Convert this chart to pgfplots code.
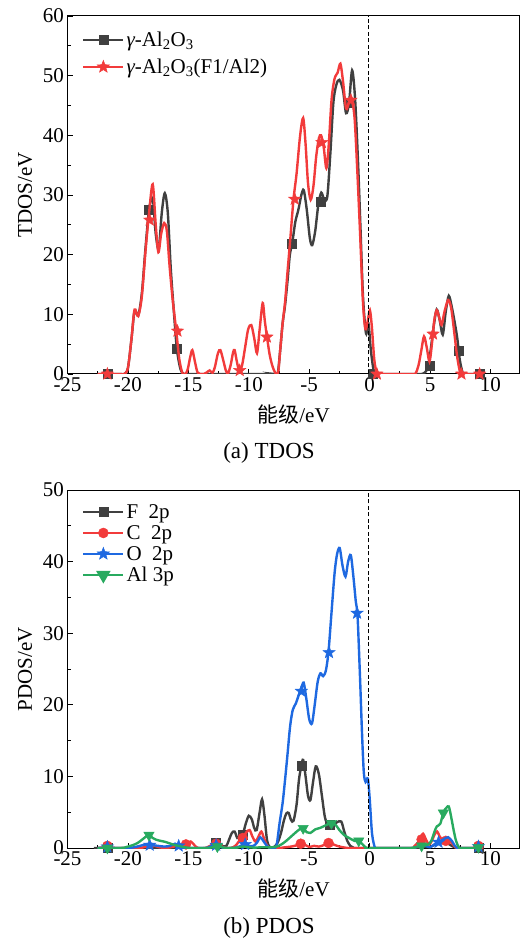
\documentclass[border=0pt]{standalone}
\usepackage{fontspec}
\setmainfont{Liberation Serif}
\newfontfamily\cjk{Noto Sans CJK SC}
\usepackage{pgfplots}
\pgfplotsset{compat=1.18}
\definecolor{cGray}{HTML}{404040}
\definecolor{cRed}{HTML}{F23B3B}
\definecolor{cBlue}{HTML}{1E69E1}
\definecolor{cGreen}{HTML}{28AA5F}
\newcommand{\fs}{\fontsize{21}{25}\selectfont}

% filled five-point star
\pgfdeclareplotmark{fstar}{%
  \pgfpathmoveto{\pgfpointpolar{90}{\pgfplotmarksize}}%
  \pgfpathlineto{\pgfpointpolar{126}{0.42\pgfplotmarksize}}%
  \pgfpathlineto{\pgfpointpolar{162}{\pgfplotmarksize}}%
  \pgfpathlineto{\pgfpointpolar{198}{0.42\pgfplotmarksize}}%
  \pgfpathlineto{\pgfpointpolar{234}{\pgfplotmarksize}}%
  \pgfpathlineto{\pgfpointpolar{270}{0.42\pgfplotmarksize}}%
  \pgfpathlineto{\pgfpointpolar{306}{\pgfplotmarksize}}%
  \pgfpathlineto{\pgfpointpolar{342}{0.42\pgfplotmarksize}}%
  \pgfpathlineto{\pgfpointpolar{18}{\pgfplotmarksize}}%
  \pgfpathlineto{\pgfpointpolar{54}{0.42\pgfplotmarksize}}%
  \pgfpathclose\pgfusepathqfillstroke}

\pgfplotsset{
  dosaxis/.style={
    scale only axis, width=452pt, height=358pt,
    xmin=-25, xmax=12.4, ymin=0,
    xtick={-25,-20,...,10}, minor x tick num=1, minor y tick num=1,
    tick align=inside, tick pos=left,
    major tick length=5pt, minor tick length=3pt,
    every tick/.style={black, line width=0.8pt},
    axis line style={line width=1pt},
    tick label style={font=\fs},
    /pgf/number format/assume math mode=true,
    every axis y label/.style={at={(axis description cs:-0.094,0.5)}, rotate=90, anchor=center, font=\fs},
    every axis x label/.style={at={(axis description cs:0.5,-0.114)}, anchor=center, font=\fs},
    legend cell align=left,
    legend style={draw=none, fill=none, font=\fs, inner sep=0pt},
    legend image code/.code={\draw[mark repeat=2, mark phase=2, #1] plot coordinates {(0pt,0pt) (20pt,0pt) (40pt,0pt)};},
    clip mode=individual,
  },
  curve/.style={smooth, tension=0.5, line width=2.4pt, mark=none, forget plot},
  pts/.style={only marks, forget plot},
  lg/.style={line width=2.4pt, mark options={solid, line width=0.5pt}},
  efermi/.style={black, dash pattern=on 4pt off 2.5pt, line width=1.6pt, forget plot},
}

\begin{document}
\begin{tikzpicture}
\path[use as bounding box] (0pt,0pt) rectangle (521pt,940pt);

% ---------- (a) TDOS ----------
\begin{axis}[dosaxis, at={(67.5pt,566pt)}, anchor=south west,
  ymax=60, ytick={0,10,...,60},
  xlabel={{\cjk 能级}/eV}, ylabel={TDOS/eV},
  legend style={at={(axis description cs:0.032,0.962)}, anchor=north west, row sep=7pt},
]
\addplot[curve, cGray] coordinates {
(-22.5,0)(-22.2,0)(-20.6,0)(-20.3,0)(-20.0,1)(-19.7,6)(-19.45,10.6)(-19.15,9.8)
(-18.85,13.5)(-18.55,21)(-18.25,27.5)(-17.95,29.5)(-17.7,23.5)(-17.45,21)(-17.2,27)
(-16.95,30.3)(-16.7,27)(-16.45,17.5)(-16.2,10.5)(-15.95,4.2)(-15.65,0.8)(-15.35,0)
(-15.05,0)(-8.2,0)(-7.9,0)(-7.6,0.2)(-7.4,4)(-7.2,8.5)(-7.0,11.5)(-6.8,15.5)(-6.6,20)
(-6.4,22)(-6.15,25.5)(-5.9,27.5)(-5.65,30)(-5.45,30.8)(-5.2,27.5)(-4.95,22.8)
(-4.75,21.6)(-4.5,24)(-4.25,28.3)(-4.0,30.4)(-3.75,29.2)(-3.5,29.8)(-3.25,37)
(-3.0,45.5)(-2.75,48.5)(-2.5,49.3)(-2.2,47.5)(-1.95,43.7)(-1.7,45.5)(-1.45,50.9)
(-1.2,46)(-0.95,35)(-0.75,24)(-0.55,13)(-0.3,6.8)(-0.1,8.5)(0.1,4)(0.35,0.4)(0.6,0)
(0.9,0)(4.0,0)(4.3,0)(4.6,0.3)(4.85,1.3)(5.05,4)(5.3,8)(5.55,10.8)(5.8,9)(6.05,6.6)
(6.3,10.5)(6.55,13.1)(6.8,11.2)(7.05,8.5)(7.25,6)(7.45,2.5)(7.7,0.2)(7.95,0)(8.25,0)(9.4,0)
};
\addplot[pts, cGray, mark=square*, mark size=4.5pt] coordinates {
(-21.7,0)(-18.26,27.5)(-15.94,4.2)(-6.42,21.9)(-4.07,28.8)(-1.73,45.4)(0.23,0)
(4.97,1.4)(7.4,3.9)(9.1,0)
};
\addplot[curve, cRed] coordinates {
(-22.5,0)(-22.2,0)(-20.6,0)(-20.3,0)(-20.0,1)(-19.7,6)(-19.45,10.8)(-19.15,9.7)
(-18.85,13)(-18.55,20.5)(-18.25,27)(-17.95,31.8)(-17.7,25)(-17.48,20.4)(-17.25,23.5)
(-17.0,25.3)(-16.78,24)(-16.55,18)(-16.3,12.5)(-16.0,7.2)(-15.75,2.5)(-15.5,0.2)
(-15.25,0)(-15.05,0.8)(-14.85,2.8)(-14.67,4)(-14.45,2)(-14.25,0.3)(-14.05,0)(-13.7,0)
(-13.45,0.3)(-13.24,0.6)(-13.0,0.2)(-12.8,1.2)(-12.55,3.5)(-12.35,4)(-12.1,2.2)
(-11.9,0.6)(-11.72,0.1)(-11.5,1.5)(-11.3,3.6)(-11.17,4)(-10.98,2)(-10.78,0.5)
(-10.55,1.5)(-10.3,4.5)(-10.05,7.5)(-9.79,8.2)(-9.55,6)(-9.32,3.5)(-9.1,7.5)
(-8.85,11.9)(-8.68,9)(-8.5,6.3)(-8.25,3)(-7.95,0.8)(-7.6,0)(-7.4,4)(-7.2,8.5)
(-7.0,12)(-6.8,17)(-6.55,23)(-6.3,29.3)(-6.05,33.5)(-5.75,40)(-5.5,42.9)(-5.3,38.5)
(-5.1,32)(-4.88,29.2)(-4.65,31.5)(-4.42,36.5)(-4.2,39.5)(-4.02,40)(-3.8,38)(-3.58,34.5)
(-3.38,38.5)(-3.15,46)(-2.9,49.5)(-2.65,50.5)(-2.42,52)(-2.2,49)(-1.95,44.5)(-1.7,45.5)
(-1.5,46)(-1.25,43)(-1.02,34)(-0.8,24)(-0.55,12)(-0.35,7.5)(-0.15,9)(0.02,10.7)
(0.18,8)(0.38,2.5)(0.6,0)(0.85,0)(3.5,0)(3.8,0.1)(4.05,1.5)(4.28,4)(4.5,6.3)(4.72,4.5)
(4.95,2.1)(5.15,5)(5.35,9)(5.55,10.7)(5.75,9.5)(5.95,8.2)(6.2,10.5)(6.5,12.4)(6.75,11)
(7.0,7)(7.25,2.8)(7.5,0.2)(7.75,0)(8.0,0)(9.4,0)
};
\addplot[pts, cRed, mark=fstar, mark size=6.5pt] coordinates {
(-21.7,0)(-18.2,25.8)(-15.9,7.2)(-10.75,0.6)(-8.5,6.2)(-6.2,29.3)(-3.95,38.8)
(-1.55,45.9)(0.6,0)(5.25,6.7)(7.6,0)(9.1,0)
};
\addplot[efermi] coordinates {(-0.1,0) (-0.1,60)};
\addlegendimage{lg, cGray, mark=square*, mark size=4.5pt}
\addlegendentry{{\itshape γ}-Al\textsubscript{2}O\textsubscript{3}}
\addlegendimage{lg, cRed, mark=fstar, mark size=6.5pt}
\addlegendentry{{\itshape γ}-Al\textsubscript{2}O\textsubscript{3}(F1/Al2)}
\end{axis}

% ---------- (b) PDOS ----------
\begin{axis}[dosaxis, at={(67.5pt,92pt)}, anchor=south west,
  ymax=50, ytick={0,10,...,50},
  xlabel={{\cjk 能级}/eV}, ylabel={PDOS/eV},
  legend style={at={(axis description cs:0.032,0.966)}, anchor=north west, row sep=1.5pt},
]
\addplot[curve, cGray] coordinates {
(-22.5,0)(-22.2,0)(-13.6,0)(-13.3,0.1)(-13.0,0.5)(-12.7,0.8)(-12.4,0.6)(-12.1,0.2)
(-11.85,0.3)(-11.6,1.3)(-11.4,2.1)(-11.17,2.3)(-10.95,1.4)(-10.75,1.6)(-10.5,1.9)
(-10.25,3.4)(-10.0,4.5)(-9.75,4)(-9.55,2.8)(-9.35,2.5)(-9.1,5)(-8.9,6.8)(-8.7,4.5)
(-8.5,1.2)(-8.3,0.2)(-8.05,0)(-7.8,0.3)(-7.6,0.8)(-7.35,2)(-7.1,3.8)(-6.9,4.8)
(-6.7,4.9)(-6.5,3.9)(-6.3,3.8)(-6.05,6)(-5.85,9.5)(-5.65,11.5)(-5.5,12.3)(-5.3,10)
(-5.1,7.3)(-4.9,6.7)(-4.7,9)(-4.46,11.4)(-4.2,10.3)(-3.95,7.3)(-3.7,4.3)(-3.45,3.3)
(-3.2,3.2)(-2.95,3.3)(-2.7,3.6)(-2.35,3.7)(-2.1,2.3)(-1.85,1.0)(-1.6,0.3)(-1.35,0.05)
(-1.1,0)(3.6,0)(3.9,0.05)(4.3,0.2)(4.8,0.1)(5.2,0.3)(5.6,0.6)(6.0,0.8)(6.4,0.7)
(6.8,0.3)(7.2,0)(7.5,0)(9.4,0)
};
\addplot[pts, cGray, mark=square*, mark size=4.5pt] coordinates {
(-21.7,0)(-12.7,0.8)(-10.5,1.8)(-5.65,11.45)(-3.3,3.3)(9.0,0)
};
\addplot[curve, cRed] coordinates {
(-22.5,0)(-22.0,0.1)(-21.7,0.3)(-21.4,0.1)(-21.0,0)(-19.0,0)(-18.6,0.2)(-18.2,0.1)
(-17.8,0.3)(-17.4,0.1)(-16.8,0)(-16.2,0.2)(-15.8,0.4)(-15.45,0.4)(-15.1,0.5)(-14.8,0.9)
(-14.5,0.4)(-14.2,0)(-13.6,0)(-13.2,0.3)(-12.8,0.6)(-12.4,0.4)(-12.1,0.1)(-11.7,0)
(-11.3,0.1)(-11.0,0.5)(-10.75,1.1)(-10.5,1.5)(-10.2,2.2)(-9.93,2.5)(-9.7,1.6)(-9.45,0.9)
(-9.2,1.6)(-8.96,2.3)(-8.75,1.4)(-8.5,0.4)(-8.25,0)(-8.0,0)(-7.5,0)(-7.0,0.1)(-6.5,0.2)
(-6.0,0.4)(-5.7,0.7)(-5.4,0.5)(-5.0,0.15)(-4.6,0.3)(-4.2,0.2)(-3.8,0.4)(-3.4,0.8)
(-3.0,0.5)(-2.6,0.25)(-2.2,0.1)(-1.8,0)(-1.4,0)(3.4,0)(3.73,0.3)(4.0,0.8)(4.2,1.3)
(4.42,2.0)(4.65,1.2)(4.92,0.5)(5.15,1.0)(5.35,1.8)(5.58,2.3)(5.8,1.6)(6.05,1.1)
(6.3,1.2)(6.6,1.0)(6.9,0.5)(7.1,0.1)(7.35,0)(7.7,0)(8.6,0)(8.8,0.1)(9.0,0.4)(9.2,0.1)(9.4,0)
};
\addplot[pts, cRed, mark=*, mark size=5pt] coordinates {
(-21.7,0.3)(-15.2,0.5)(-12.7,0.6)(-10.5,1.4)(-5.7,0.6)(-3.4,0.7)(4.3,1.2)(6.3,1.0)(9.0,0.3)
};
\addplot[curve, cBlue] coordinates {
(-22.5,0)(-22.0,0.05)(-21.7,0.2)(-21.4,0.05)(-21.0,0)(-20.0,0)(-19.5,0.1)(-19.0,0.3)
(-18.5,0.5)(-18.0,0.4)(-17.5,0.3)(-17.0,0.2)(-16.5,0.3)(-16.1,0.6)(-15.8,0.3)(-15.4,0)
(-13.6,0)(-13.2,0.2)(-12.8,0.5)(-12.4,0.2)(-12.0,0)(-11.2,0)(-10.8,0.2)(-10.4,0.5)
(-10.0,0.3)(-9.6,0.3)(-9.3,0.8)(-9.05,1.5)(-8.8,1.0)(-8.5,0.3)(-8.2,0)(-7.95,0)
(-7.7,0.4)(-7.45,3.5)(-7.2,6.3)(-7.0,9.5)(-6.8,13)(-6.58,17)(-6.36,19.3)(-6.1,20.2)
(-5.88,21.3)(-5.65,22.3)(-5.46,23.1)(-5.25,21)(-5.0,18)(-4.77,17.4)(-4.56,19.8)
(-4.3,23.2)(-4.07,24.4)(-3.85,24)(-3.62,24.8)(-3.4,27.5)(-3.15,33)(-2.9,38.4)(-2.7,41)
(-2.48,41.9)(-2.25,39.5)(-2.0,37.9)(-1.78,40)(-1.56,40.9)(-1.35,38)(-1.15,34.5)
(-1.0,32.4)(-0.8,24)(-0.63,16)(-0.48,10.5)(-0.33,9.2)(-0.15,9.7)(0.0,7)(0.2,2)(0.45,0)
(0.7,0)(3.5,0)(3.8,0.1)(4.2,0.3)(4.6,0.3)(5.0,0.1)(5.35,0.5)(5.66,0.8)(6.0,1.1)(6.3,1.4)
(6.5,1.5)(6.8,1.0)(7.05,0.3)(7.25,0)(7.5,0)(8.7,0)(9.0,0.2)(9.3,0)
};
\addplot[pts, cBlue, mark=fstar, mark size=6.5pt] coordinates {
(-21.7,0.15)(-18.2,0.4)(-15.8,0.3)(-12.7,0.4)(-10.3,0.5)(-5.65,21.9)(-3.36,27.3)
(-1.04,32.8)(5.7,0.8)(9.0,0.2)
};
\addplot[curve, cGreen] coordinates {
(-22.5,0)(-22.2,0)(-20.6,0)(-20.3,0.05)(-20.0,0.2)(-19.6,0.4)(-19.2,0.7)(-18.8,1.2)
(-18.5,1.6)(-18.26,1.8)(-17.95,1.4)(-17.65,1.15)(-17.3,1.0)(-16.9,0.85)(-16.55,0.65)
(-16.1,0.4)(-15.7,0.25)(-15.3,0.1)(-14.9,0)(-14.5,0)(-13.5,0)(-13.0,0.1)(-12.6,0.2)
(-12.2,0.1)(-11.8,0)(-11.0,0.05)(-10.5,0.2)(-10.0,0.1)(-9.5,0.05)(-9.0,0.1)(-8.5,0.1)
(-8.1,0.1)(-7.7,0.2)(-7.3,0.5)(-6.9,1.0)(-6.5,1.6)(-6.1,2.2)(-5.8,2.6)(-5.5,2.75)
(-5.2,2.2)(-4.9,2.1)(-4.5,2.6)(-4.1,2.8)(-3.6,3.2)(-3.16,3.5)(-2.8,3.2)(-2.5,2.5)
(-2.1,1.8)(-1.7,1.4)(-1.25,1.0)(-0.85,0.9)(-0.55,0.45)(-0.3,0.05)(0.0,0)(3.4,0)(3.7,0.1)
(4.0,0.2)(4.5,0.35)(4.85,0.5)(5.1,1.0)(5.35,2.2)(5.55,3.0)(5.85,3.4)(6.1,5.0)(6.35,5.6)
(6.55,5.8)(6.75,4.3)(6.95,2.5)(7.15,1.0)(7.4,0.05)(7.65,0)(8.7,0)(9.0,0.1)(9.3,0)
};
\addplot[pts, cGreen, mark=triangle*, mark size=6pt, mark options={rotate=180}] coordinates {
(-21.7,0)(-18.26,1.8)(-12.6,0.2)(-5.5,2.75)(-3.16,3.45)(-0.9,1.0)(4.3,0.3)(6.1,4.9)(9.0,0.1)
};
\addplot[efermi] coordinates {(-0.1,0) (-0.1,50)};
\addlegendimage{lg, cGray, mark=square*, mark size=4.5pt}
\addlegendentry{F~~2p}
\addlegendimage{lg, cRed, mark=*, mark size=5pt}
\addlegendentry{C~~2p}
\addlegendimage{lg, cBlue, mark=fstar, mark size=6.5pt}
\addlegendentry{O~~2p}
\addlegendimage{lg, cGreen, mark=triangle*, mark size=6pt, mark options={rotate=180}}
\addlegendentry{Al 3p}
\end{axis}

\node[font=\fontsize{23}{27}\selectfont] at (269pt,487pt) {(a) TDOS};
\node[font=\fontsize{23}{27}\selectfont] at (269pt,12pt) {(b) PDOS};
\end{tikzpicture}
\end{document}
